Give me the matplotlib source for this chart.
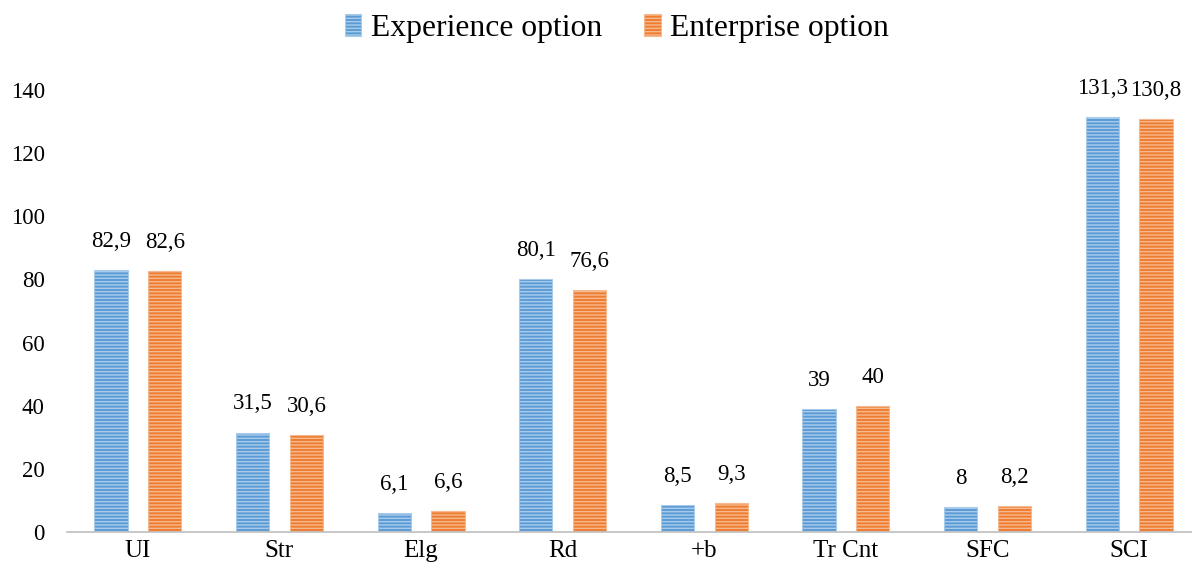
import matplotlib.pyplot as plt
import numpy as np

categories = ['UI', 'Str', 'Elg', 'Rd', '+b', 'Tr Cnt', 'SFC', 'SCI']
experience = [82.9, 31.5, 6.1, 80.1, 8.5, 39, 8, 131.3]
enterprise = [82.6, 30.6, 6.6, 76.6, 9.3, 40, 8.2, 130.8]
yticks = [0, 20, 40, 60, 80, 100, 120, 140]

plt.rcParams['font.family'] = ['Liberation Serif', 'DejaVu Serif']
plt.rcParams['hatch.linewidth'] = 1.0

def fmt(v):
    s = ('%g' % v)
    return s.replace('.', ',')

fig = plt.figure(figsize=(11.92, 5.81), dpi=100)
ax = fig.add_axes([0.0562, 0.0843, 0.9505, 0.761])

x = np.arange(len(categories))
w = 0.235
off = 0.19

b1 = ax.bar(x - off, experience, w, color='#5b9bd5', edgecolor='#a9cbeb',
            hatch='-----', linewidth=0.8, label='Experience option')
b2 = ax.bar(x + off, enterprise, w, color='#ed7d31', edgecolor='#f6b98f',
            hatch='-----', linewidth=0.8, label='Enterprise option')

for bars, vals in [(b1, experience), (b2, enterprise)]:
    for r, v in zip(bars, vals):
        ax.annotate(fmt(v), (r.get_x() + r.get_width() / 2, v),
                    xytext=(0, 13), textcoords='offset points',
                    ha='center', va='bottom', fontsize=16.5, annotation_clip=False)

ax.set_xlim(-0.5, len(categories) - 0.5)
ax.set_ylim(0, 140)
ax.set_yticks(yticks)
ax.set_xticks(x)
ax.set_xticklabels(categories)
ax.tick_params(axis='y', length=0, pad=16, labelsize=16.5)
ax.tick_params(axis='x', length=0, pad=6, labelsize=18)
for s in ['top', 'right', 'left']:
    ax.spines[s].set_visible(False)
ax.spines['bottom'].set_color('#bfbfbf')
ax.spines['bottom'].set_linewidth(1.2)

fig.legend(loc='upper center', bbox_to_anchor=(0.5176, 1.025), ncol=2, frameon=False,
           fontsize=22.8, handlelength=0.52, handleheight=0.7, handletextpad=0.3,
           columnspacing=1.33)

fig.savefig('out.png', dpi=100)
